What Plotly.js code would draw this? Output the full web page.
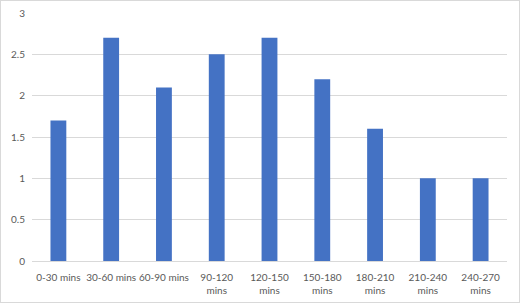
<!DOCTYPE html>
<html>
<head>
<meta charset="utf-8">
<script src="https://cdn.plot.ly/plotly-3.0.1.min.js"></script>
<style>
html,body{margin:0;padding:0;background:#fff;}
#wrap{width:520px;height:303px;box-sizing:border-box;border:1px solid #d9d9d9;}
#chart{width:518px;height:301px;}
</style>
</head>
<body>
<div id="wrap"><div id="chart"></div></div>
<script>
const categories = ["0-30 mins","30-60 mins","60-90 mins","90-120 mins","120-150 mins","150-180 mins","180-210 mins","210-240 mins","240-270 mins"];
const tickLabels = ["0-30 mins","30-60 mins","60-90 mins","90-120<br>mins","120-150<br>mins","150-180<br>mins","180-210<br>mins","210-240<br>mins","240-270<br>mins"];
const values = [1.7, 2.7, 2.1, 2.5, 2.7, 2.2, 1.6, 1.0, 1.0];
const yTicks = [0, 0.5, 1, 1.5, 2, 2.5, 3];

const fnt = {family: 'Lato, Open Sans, sans-serif', size: 10, color: '#595959'};

const trace = {
  type: 'bar',
  x: categories,
  y: values,
  marker: {color: '#4472C4'},
  hoverinfo: 'none'
};

const layout = {
  width: 518, height: 301,
  margin: {l: 31, r: 12, t: 12, b: 41, pad: 0},
  paper_bgcolor: '#ffffff',
  plot_bgcolor: '#ffffff',
  bargap: 0.7,
  showlegend: false,
  font: fnt,
  xaxis: {
    type: 'category',
    tickmode: 'array',
    tickvals: categories,
    ticktext: tickLabels,
    tickangle: 0,
    showgrid: false,
    showline: true,
    linecolor: '#d9d9d9',
    linewidth: 1,
    ticks: '',
    ticklabelstandoff: 7,
    tickfont: fnt,
    fixedrange: true
  },
  yaxis: {
    range: [0, 3],
    tickmode: 'array',
    tickvals: yTicks,
    ticktext: yTicks.map(String),
    showgrid: true,
    gridcolor: '#d9d9d9',
    gridwidth: 1,
    zeroline: false,
    showline: false,
    ticks: '',
    ticklabelstandoff: 6,
    tickfont: fnt,
    fixedrange: true
  }
};

Plotly.newPlot('chart', [trace], layout, {displayModeBar: false, staticPlot: true});
</script>
</body>
</html>
